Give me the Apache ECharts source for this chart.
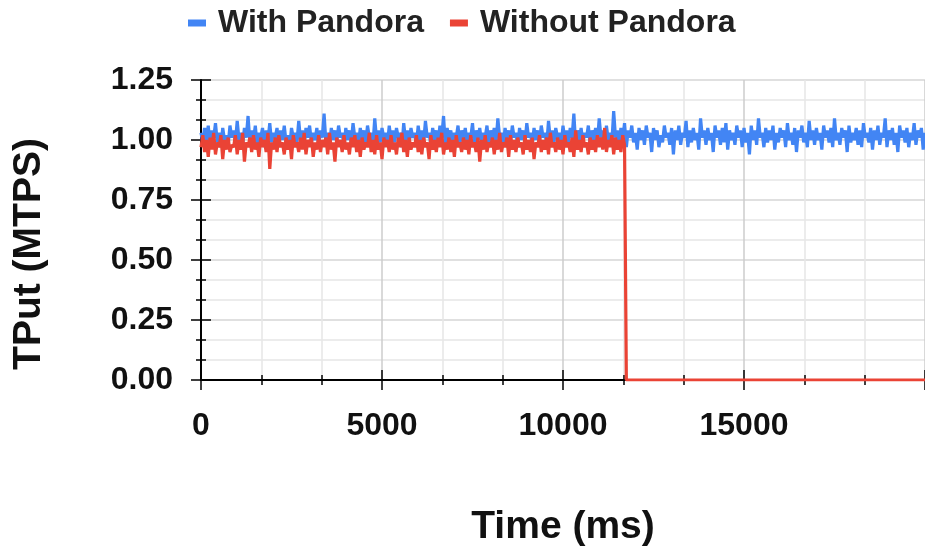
<!DOCTYPE html>
<html>
<head>
<meta charset="utf-8">
<script src="https://cdn.jsdelivr.net/npm/echarts@6/dist/echarts.min.js"></script>
<style>html,body{margin:0;padding:0;background:#fff}#c{width:925px;height:550px}</style>
</head>
<body>
<div id="c"></div>
<script>
// sample period (ms) of both traces
const sampleStepMs = 50;
// With Pandora throughput (MTPS), samples at 0, 50, 100 ... 20000 ms
const withPandora = [
1.03,0.99,1.05,1.00,1.06,0.98,1.04,1.01,1.07,0.99,1.03,0.97,1.05,1.00,1.02,0.98,1.06,1.01,1.04,0.99,
1.08,1.00,1.03,0.98,1.05,1.01,1.10,0.99,1.04,1.00,1.06,0.98,1.03,1.01,1.05,0.97,1.04,1.00,1.07,0.99,
1.03,1.01,1.05,0.98,1.04,1.00,1.06,0.99,1.02,0.97,1.05,1.01,1.03,0.99,1.08,1.00,1.04,0.98,1.05,1.01,
1.06,0.99,1.03,1.00,1.05,0.98,1.04,1.01,1.11,0.99,1.03,0.98,1.05,1.00,1.04,0.99,1.06,1.01,1.03,0.97,
1.05,1.00,1.04,0.99,1.07,1.01,1.03,0.98,1.05,1.00,1.04,0.99,1.06,1.01,1.03,0.98,1.09,1.00,1.04,0.99,
1.05,1.01,1.03,0.98,1.06,1.00,1.04,0.99,1.05,1.01,1.03,0.97,1.07,1.00,1.04,0.99,1.05,1.01,1.03,0.98,
1.06,1.00,1.04,0.99,1.08,1.01,1.03,0.98,1.05,1.00,1.04,0.99,1.06,1.01,1.10,0.98,1.05,1.00,1.04,0.99,
1.03,1.01,1.06,0.98,1.04,1.00,1.05,0.99,1.03,1.01,1.07,0.98,1.04,1.00,1.05,0.99,1.03,1.01,1.06,0.98,
1.04,1.00,1.05,0.99,1.09,1.01,1.03,0.98,1.05,1.00,1.04,0.99,1.06,1.01,1.03,0.97,1.05,1.00,1.04,0.99,
1.07,1.01,1.03,0.98,1.05,1.00,1.04,0.99,1.06,1.01,1.03,0.98,1.08,1.00,1.04,0.99,1.05,1.01,1.03,0.98,
1.06,1.00,1.04,0.99,1.05,1.01,1.11,0.98,1.04,1.00,1.05,0.99,1.03,1.01,1.06,0.98,1.04,1.00,1.05,0.99,
1.09,1.01,1.04,0.98,1.06,1.00,1.03,0.99,1.12,1.01,1.04,0.98,1.05,1.00,1.07,0.97,1.04,1.01,1.06,0.99,
1.03,0.96,1.05,1.00,1.04,0.98,1.06,1.01,1.03,0.95,1.05,1.00,1.04,0.97,1.02,0.99,1.06,1.01,1.03,0.98,
1.05,0.94,1.04,1.00,1.06,0.98,1.03,1.01,1.08,0.97,1.04,0.99,1.05,1.00,1.03,0.96,1.09,1.01,1.04,0.98,
1.05,1.00,1.03,0.95,1.06,1.01,1.04,0.98,1.05,0.99,1.07,0.96,1.04,1.00,1.03,0.98,1.06,1.01,1.04,0.97,
1.05,0.99,1.03,0.94,1.06,1.00,1.04,0.98,1.09,1.01,1.03,0.97,1.05,0.99,1.04,1.00,1.06,0.96,1.03,0.99,
1.05,1.01,1.04,0.97,1.07,1.00,1.03,0.98,1.05,0.95,1.04,1.01,1.06,0.99,1.03,0.97,1.08,1.00,1.04,0.98,
1.05,1.00,1.03,0.96,1.06,1.01,1.04,0.99,1.05,0.97,1.09,1.00,1.03,0.98,1.05,1.01,1.04,0.95,1.06,0.99,
1.03,1.00,1.05,0.98,1.04,0.97,1.07,1.01,1.03,0.99,1.05,0.96,1.04,1.00,1.06,0.98,1.03,1.01,1.09,0.97,
1.04,1.00,1.05,0.98,1.03,0.95,1.06,1.01,1.04,0.99,1.05,0.97,1.03,1.00,1.07,0.98,1.04,1.01,1.05,0.96,
1.03
];
// Without Pandora throughput (MTPS), samples at 0, 50 ... 11700 ms
const withoutPandora = [
0.97,1.02,0.95,1.00,0.93,1.01,0.96,1.03,0.94,0.99,0.97,1.02,0.92,1.00,0.96,1.01,0.95,0.98,0.97,1.02,
0.94,1.00,0.96,1.03,0.91,0.99,0.97,1.01,0.95,1.02,0.96,0.99,0.93,1.01,0.97,1.00,0.95,1.03,0.88,0.99,
0.96,1.01,0.95,1.02,0.97,0.99,0.94,1.01,0.96,1.00,0.92,1.02,0.97,0.99,0.95,1.01,0.96,1.03,0.94,1.00,
0.97,1.01,0.93,0.99,0.96,1.02,0.95,1.00,0.97,1.01,0.94,1.03,0.96,0.99,0.91,1.01,0.97,1.00,0.95,1.02,
0.96,0.99,0.94,1.01,0.97,1.02,0.95,1.00,0.93,1.01,0.96,0.99,0.97,1.03,0.95,1.00,0.94,1.02,0.96,0.99,
0.92,1.01,0.97,1.00,0.95,1.02,0.96,0.99,0.94,1.01,0.97,1.03,0.95,1.00,0.93,1.01,0.96,0.99,0.97,1.02,
0.95,1.00,0.94,1.01,0.97,0.99,0.92,1.02,0.96,1.00,0.95,1.01,0.97,1.03,0.94,0.99,0.96,1.01,0.95,1.00,
0.93,1.02,0.97,0.99,0.95,1.01,0.96,1.00,0.94,1.02,0.97,0.99,0.95,1.01,0.91,1.00,0.96,1.02,0.95,0.99,
0.97,1.01,0.94,1.00,0.96,1.03,0.95,0.99,0.97,1.01,0.93,1.02,0.96,1.00,0.95,1.01,0.97,0.99,0.94,1.02,
0.96,1.00,0.95,1.01,0.92,0.99,0.97,1.02,0.95,1.00,0.96,1.01,0.94,1.03,0.97,0.99,0.95,1.01,0.96,1.00,
0.94,1.02,0.97,0.99,0.95,1.01,0.93,1.04,0.96,1.00,0.95,1.02,0.97,0.99,0.94,1.01,0.96,1.00,0.95,1.02,
0.97,1.01,0.96,1.05,0.95,1.00,0.97,1.02,0.94,1.01,0.96,1.00,0.95,1.02,0.98
];
// after the failure: time (ms) and throughput
const failTimes = [11750, 20000];
const failValues = [0, 0];

const xTicks = { min: 0, max: 20000, interval: 5000 };
const yTicks = { min: 0, max: 1.25, interval: 0.25 };

const blueData = withPandora.map((v, i) => [i * sampleStepMs, v]);
const redData = withoutPandora.map((v, i) => [i * sampleStepMs, v])
  .concat(failTimes.map((t, i) => [t, failValues[i]]));

const FONT = '"Liberation Sans", Arial, sans-serif';
const chart = echarts.init(document.getElementById('c'), null, { renderer: 'canvas' });
chart.setOption({
  animation: false,
  backgroundColor: '#fff',
  legend: {
    top: 2, left: 183,
    icon: 'rect', itemWidth: 18, itemHeight: 7, itemGap: 26,
    textStyle: { fontFamily: FONT, fontSize: 32, fontWeight: 'bold', color: '#222', padding: [0, 0, 0, 7] },
    data: ['With Pandora', 'Without Pandora']
  },
  grid: { left: 201, right: 0, top: 80, bottom: 170, containLabel: false, outerBoundsMode: 'none' },
  xAxis: [{
    type: 'value', min: xTicks.min, max: xTicks.max, interval: xTicks.interval,
    axisLine: { show: true, onZero: false, lineStyle: { color: '#000', width: 2 } },
    axisTick: { show: true, length: 10, lineStyle: { color: '#000', width: 1.5 } },
    minorTick: { show: true, splitNumber: 3, length: 5, lineStyle: { color: '#000', width: 1.5 } },
    splitLine: { show: true, lineStyle: { color: '#cccccc', width: 1.5 } },
    minorSplitLine: { show: true, lineStyle: { color: '#e6e6e6', width: 1.5 } },
    axisLabel: { fontFamily: FONT, fontSize: 32, fontWeight: 'bold', color: '#111', margin: 30,
      showMaxLabel: false, formatter: v => String(v) },
    name: 'Time (ms)', nameLocation: 'middle', nameGap: 128,
    nameTextStyle: { fontFamily: FONT, fontSize: 39, fontWeight: 'bold', color: '#111' }
  }, {
    type: 'value', min: xTicks.min, max: xTicks.max, interval: xTicks.interval, position: 'bottom',
    axisLine: { show: false },
    axisTick: { show: true, inside: true, length: 10, lineStyle: { color: '#000', width: 1.5 } },
    minorTick: { show: true, splitNumber: 3, length: 5, lineStyle: { color: '#000', width: 1.5 } },
    splitLine: { show: false }, axisLabel: { show: false }
  }],
  yAxis: [{
    type: 'value', min: yTicks.min, max: yTicks.max, interval: yTicks.interval,
    axisLine: { show: true, onZero: false, lineStyle: { color: '#000', width: 2 } },
    axisTick: { show: true, length: 10, lineStyle: { color: '#000', width: 1.5 } },
    minorTick: { show: true, splitNumber: 3, length: 5, lineStyle: { color: '#000', width: 1.5 } },
    splitLine: { show: true, lineStyle: { color: '#d6d6d6', width: 1.5 } },
    minorSplitLine: { show: true, lineStyle: { color: '#e6e6e6', width: 1.5 } },
    axisLabel: { fontFamily: FONT, fontSize: 32, fontWeight: 'bold', color: '#111', margin: 28,
      formatter: v => v.toFixed(2) }
  }, {
    type: 'value', min: yTicks.min, max: yTicks.max, interval: yTicks.interval, position: 'left',
    axisLine: { show: false },
    axisTick: { show: true, inside: true, length: 10, lineStyle: { color: '#000', width: 1.5 } },
    minorTick: { show: true, splitNumber: 3, length: 5, lineStyle: { color: '#000', width: 1.5 } },
    splitLine: { show: false }, axisLabel: { show: false }
  }],
  graphic: [{
    type: 'text', x: 29, y: 254, rotation: Math.PI / 2,
    style: { text: 'TPut (MTPS)', fontFamily: FONT, fontSize: 39, fontWeight: 'bold', fill: '#111',
      textAlign: 'center', textVerticalAlign: 'middle' }
  }],
  series: [{
    name: 'With Pandora', type: 'line', data: blueData, showSymbol: false, symbol: 'none',
    color: '#4285F4', lineStyle: { width: 3.2, color: '#4285F4', join: 'bevel' }, z: 2
  }, {
    name: 'Without Pandora', type: 'line', data: redData, showSymbol: false, symbol: 'none',
    color: '#EA4335', lineStyle: { width: 3.2, color: '#EA4335', join: 'bevel' }, z: 3
  }]
});
</script>
</body>
</html>
